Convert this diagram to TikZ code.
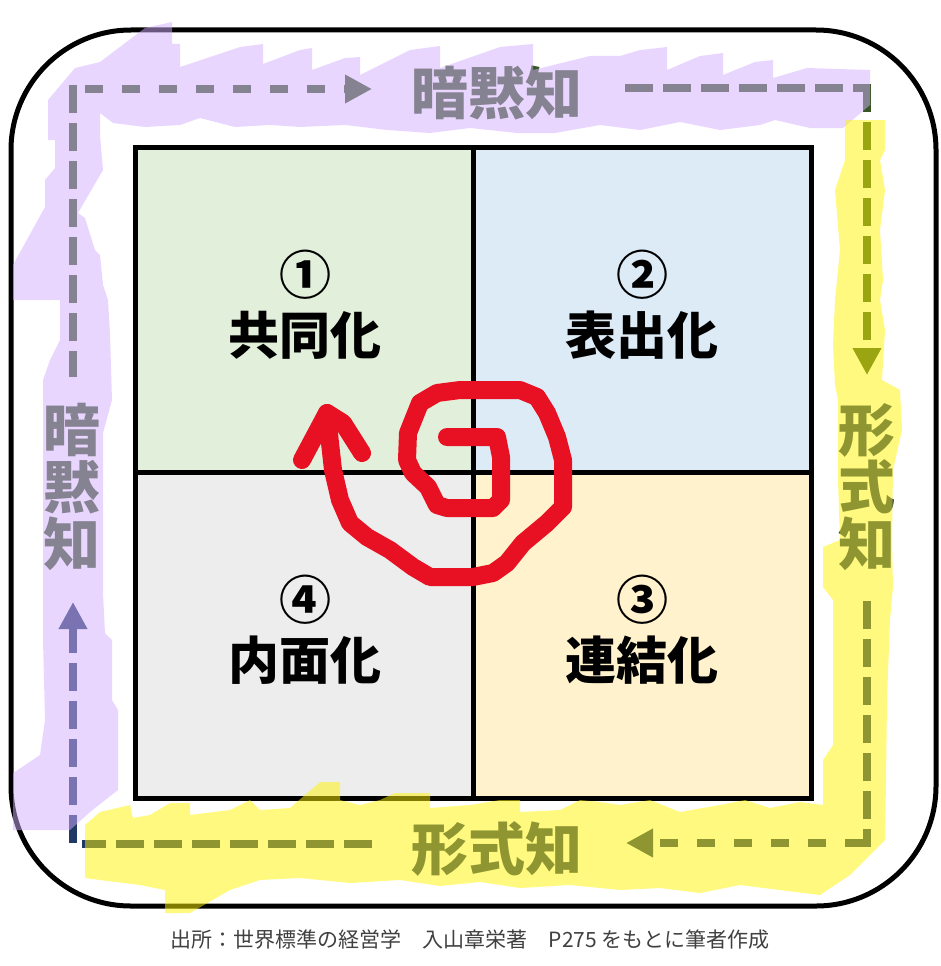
\documentclass[tikz,border=0pt]{standalone}
\usepackage{fontspec}
\usepackage{tikz}
\usetikzlibrary{positioning,arrows.meta}
\newfontfamily\jpfont{Noto Sans CJK JP}
\definecolor{tacitcolor}{RGB}{55, 86, 35}
\definecolor{explicitcolor}{RGB}{31, 56, 100}
\definecolor{socialcolor}{RGB}{226, 239, 218}
\definecolor{extercolor}{RGB}{221, 235, 247}
\definecolor{combicolor}{RGB}{255, 242, 204}
\definecolor{intercolor}{RGB}{237, 237, 237}
\definecolor{purplemark}{RGB}{212, 174, 255}
\definecolor{yellowmark}{RGB}{255, 244, 0}
\definecolor{spiralcolor}{RGB}{232, 17, 35}

\begin{document}
\begin{tikzpicture}[
    x=1pt, y=-1pt,
    cell/.style={draw, line width=5pt, minimum width=338pt, minimum height=326pt, inner sep=0pt},
    numnode/.style={font=\jpfont\bfseries\fontsize{52}{52}\selectfont, inner sep=0pt},
    labnode/.style={font=\jpfont\bfseries\fontsize{51}{51}\selectfont, inner sep=0pt},
    axisnode/.style={font=\jpfont\bfseries\fontsize{57}{57}\selectfont, inner sep=0pt, align=center},
    tacit/.style={tacitcolor, line width=8pt},
    explicit/.style={explicitcolor, line width=8pt},
    shortdash/.style={dash pattern=on 18pt off 19pt},
    longdash/.style={dash pattern=on 28pt off 10pt},
    tip/.style={-{Triangle[length=27pt,width=27pt]}},
    marker/.style={fill opacity=0.5, draw=none}
]
    \useasboundingbox (0,0) rectangle (941,966);

    % Outer frame
    \draw[line width=5pt, rounded corners=120pt] (11,30) rectangle (936,906);

    % SECI cells
    \node[cell, fill=socialcolor] (c1) at (304.5,310) {};
    \node[cell, fill=extercolor] (c2) at (642,310) {};
    \node[cell, fill=combicolor] (c3) at (642,635.5) {};
    \node[cell, fill=intercolor] (c4) at (304.5,635.5) {};

    % Cell labels
    \node[numnode] (n1) at (305,275) {①};
    \node[labnode] (l1) at (305,335) {共同化};
    \node[numnode] (n2) at (642,275) {②};
    \node[labnode] (l2) at (642,335) {表出化};
    \node[numnode] (n3) at (642,600) {③};
    \node[labnode] (l3) at (642,660) {連結化};
    \node[numnode] (n4) at (305,600) {④};
    \node[labnode] (l4) at (305,660) {内面化};

    % Knowledge labels
    \node[axisnode, text=tacitcolor] (tacitT) at (497,93) {暗黙知};
    \node[axisnode, text=explicitcolor] (explR) at (867,487) {形\\式\\知};
    \node[axisnode, text=explicitcolor] (explB) at (497,849) {形式知};
    \node[axisnode, text=tacitcolor] (tacitL) at (72,487) {暗\\黙\\知};

    % Corners and arrow ends
    \coordinate (tlV) at (73,85);
    \coordinate (tlH) at (85,89);
    \coordinate (trH) at (871,88);
    \coordinate (trV) at (867,84);
    \coordinate (brV) at (867,847);
    \coordinate (brH) at (863,843);
    \coordinate (blH) at (82,844);
    \coordinate (blV) at (73,843);
    \coordinate (aL1) at (73,377);
    \coordinate (aT1) at (372,89);
    \coordinate (aT2) at (625,88);
    \coordinate (aR1) at (867,375);
    \coordinate (aR2) at (867,601);
    \coordinate (aB1) at (626,843);
    \coordinate (aB2) at (372,844);
    \coordinate (aL2) at (73,602);

    % Tacit -> tacit -> explicit
    \draw[tacit, longdash] (tlV) -- (aL1);
    \draw[tacit, shortdash, tip] (tlH) -- (aT1);
    \draw[tacit, longdash] (aT2) -- (trH);
    \draw[tacit, longdash, tip] (trV) -- (aR1);

    % Explicit -> explicit -> tacit
    \draw[explicit, longdash] (aR2) -- (brV);
    \draw[explicit, shortdash, tip] (brH) -- (aB1);
    \draw[explicit, longdash] (aB2) -- (blH);
    \draw[explicit, longdash, tip] (blV) -- (aL2);

    % Highlighter marks
    \fill[marker, purplemark] (13,300) -- (13,265) -- (45,207) -- (45,180) -- (55,168) -- (55,140)
        -- (48,140) -- (48,100) -- (75,68) -- (100,62) -- (145,28) -- (172,22) -- (172,44)
        -- (180,44) -- (180,67) -- (240,47) -- (263,44) -- (263,64) -- (300,50) -- (312,48)
        -- (312,70) -- (345,58) -- (360,57) -- (360,75) -- (410,50) -- (440,46) -- (440,68)
        -- (500,47) -- (533,44) -- (533,70) -- (590,56) -- (620,56) -- (640,50) -- (667,47)
        -- (667,70) -- (700,56) -- (723,53) -- (723,75) -- (755,62) -- (773,60) -- (773,78)
        -- (807,68) -- (870,70) -- (870,105) -- (843,128) -- (810,128) -- (775,120) -- (760,125)
        -- (720,130) -- (680,122) -- (640,130) -- (600,125) -- (555,133) -- (517,133) -- (470,128)
        -- (430,133) -- (387,130) -- (345,125) -- (300,127) -- (270,125) -- (235,127) -- (200,118)
        -- (180,125) -- (145,127) -- (113,123) -- (100,113) -- (100,135) -- (103,170) -- (78,213)
        -- (85,218) -- (95,250) -- (100,255) -- (103,285) -- (108,300) -- (110,333) -- (112,400)
        -- (103,433) -- (103,593) -- (105,633) -- (112,640) -- (112,700) -- (118,710) -- (118,790)
        -- (90,812) -- (70,830) -- (13,830) -- (13,773) -- (40,755) -- (45,720) -- (43,640)
        -- (43,380) -- (50,360) -- (60,340) -- (60,300) -- (32,300) -- cycle;
    \fill[marker, yellowmark] (845,120) -- (885,120) -- (885,150) -- (880,160) -- (885,190)
        -- (880,230) -- (883,280) -- (880,300) -- (885,330) -- (882,380) -- (900,390) -- (902,430)
        -- (893,470) -- (892,540) -- (893,587) -- (890,620) -- (887,700) -- (886,780) -- (885,840)
        -- (850,875) -- (820,895) -- (780,890) -- (740,885) -- (700,893) -- (660,888) -- (620,890)
        -- (570,885) -- (520,888) -- (480,882) -- (440,886) -- (400,880) -- (350,883) -- (300,878)
        -- (260,880) -- (230,890) -- (190,913) -- (165,913) -- (165,890) -- (140,885) -- (100,880)
        -- (85,878) -- (85,825) -- (100,812) -- (130,805) -- (133,818) -- (150,815) -- (170,803)
        -- (190,803) -- (190,815) -- (230,810) -- (250,800) -- (260,810) -- (290,808) -- (320,782)
        -- (340,782) -- (340,800) -- (360,805) -- (380,800) -- (395,793) -- (430,793) -- (430,808)
        -- (470,805) -- (500,800) -- (520,800) -- (520,812) -- (560,810) -- (580,800) -- (600,802)
        -- (620,805) -- (650,800) -- (680,812) -- (720,805) -- (745,800) -- (770,808) -- (800,802)
        -- (823,805) -- (823,760) -- (833,745) -- (833,600) -- (823,587) -- (823,547) -- (840,540)
        -- (838,480) -- (838,400) -- (835,385) -- (833,345) -- (835,300) -- (840,250) -- (835,190)
        -- (845,160) -- cycle;

    % Spiral
    \draw[spiralcolor, line width=18pt, line cap=round, line join=round]
        (447,437) -- (497,437) -- (501,457) -- (501,500) -- (493,508) -- (447,508) -- (437,505)
        -- (428,487) -- (413,473) -- (407,460) -- (408,433) -- (420,403) -- (437,393) -- (460,390)
        -- (520,390) -- (537,397) -- (547,413) -- (557,437) -- (563,460) -- (563,507) -- (547,523)
        -- (523,543) -- (507,563) -- (493,573) -- (473,577) -- (430,577) -- (413,567) -- (390,550)
        -- (367,537) -- (350,523) -- (340,500) -- (333,470) -- (330,443) -- (327,413);
    \draw[spiralcolor, line width=18pt, line cap=round, line join=round]
        (302,460) -- (327,413) -- (343,423) -- (362,453);

    % Source
    \node[font=\jpfont\fontsize{21}{21}\selectfont, text=black!75] (src) at (470,940)
        {出所：世界標準の経営学　入山章栄著　P275 をもとに筆者作成};
\end{tikzpicture}
\end{document}
